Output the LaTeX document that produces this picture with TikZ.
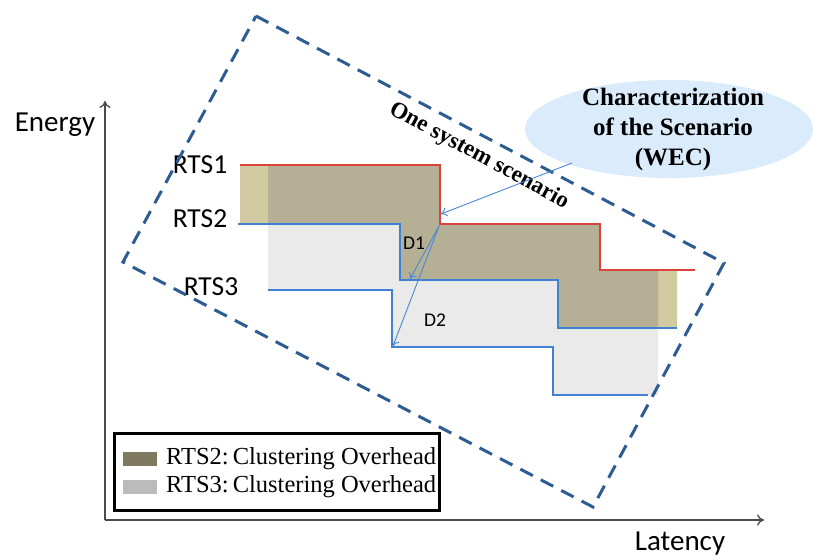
\documentclass[tikz,border=0pt]{standalone}
\usepackage{fontspec}
\setmainfont{Carlito}
\newfontfamily\serifface{Liberation Serif}
\usetikzlibrary{shapes.geometric,arrows.meta}

\definecolor{axisgray}{HTML}{4A4A4A}
\definecolor{rtsred}{HTML}{D9433B}
\definecolor{rtsblue}{HTML}{4181D3}
\definecolor{scenblue}{HTML}{2C5C92}
\definecolor{tanlight}{HTML}{D2CBA2}
\definecolor{tandark}{HTML}{B5AF96}
\definecolor{grayfill}{HTML}{EAEAEA}
\definecolor{swatchdark}{HTML}{7F7960}
\definecolor{swatchgray}{HTML}{BBBBBB}
\definecolor{wecfill}{HTML}{DAEBFB}
\definecolor{pointer}{HTML}{4A88D4}

\tikzset{
  axis/.style={draw=axisgray, line width=1.3pt, -{To[length=7pt,width=11pt]}},
  curve/.style={line width=2.6pt, line join=miter},
  sanslabel/.style={font=\fontsize{27.5}{31}\selectfont, inner sep=0pt},
  axislabel/.style={font=\fontsize{29}{33}\selectfont, inner sep=0pt},
  dlabel/.style={font=\fontsize{19.5}{22}\selectfont, inner sep=0pt},
  legendtext/.style={font=\serifface\fontsize{24.5}{27}\selectfont, anchor=west, inner sep=0pt},
  pointerarrow/.style={draw=pointer, line width=0.9pt, -{To[length=6pt,width=9pt]}},
  scenario/.style={draw=scenblue, line width=3pt, dash pattern=on 14pt off 9pt}
}

\begin{document}
\begin{tikzpicture}[x=1pt,y=-1pt]
\useasboundingbox (0,0) rectangle (813,558);

% axes
\coordinate (origin) at (105,520);
\coordinate (ytip) at (105,101);
\coordinate (xtip) at (764,520);
\draw[axis] (origin) -- (ytip);
\draw[axis] (origin) -- (xtip);
\node[axislabel] (energy) at (55,125) {Energy};
\node[axislabel] (latency) at (680,544) {Latency};

% overhead areas
\fill[grayfill] (268,224) -- (400,224) -- (400,280) -- (558,280) -- (558,328)
  -- (658,328) -- (658,395) -- (553,395) -- (553,347) -- (392,347) -- (392,290)
  -- (268,290) -- cycle;
\fill[tanlight] (240,165) -- (440,165) -- (440,224) -- (600,224) -- (600,270)
  -- (677,270) -- (677,328) -- (558,328) -- (558,280) -- (400,280) -- (400,224)
  -- (240,224) -- cycle;
\fill[tandark] (268,165) -- (440,165) -- (440,224) -- (600,224) -- (600,270)
  -- (658,270) -- (658,328) -- (558,328) -- (558,280) -- (400,280) -- (400,224)
  -- (268,224) -- cycle;

% step curves
\draw[curve, rtsred] (240,165) -- (440,165) -- (440,224) -- (600,224) -- (600,270) -- (695,270);
\draw[curve, rtsblue] (238,224) -- (400,224) -- (400,280) -- (558,280) -- (558,328) -- (677,328);
\draw[curve, rtsblue] (268,290) -- (392,290) -- (392,347) -- (553,347) -- (553,395) -- (648,395);

\node[sanslabel] (rts1) at (200,165) {RTS1};
\node[sanslabel] (rts2) at (200,219) {RTS2};
\node[sanslabel] (rts3) at (211,287) {RTS3};
\node[dlabel] (d1) at (414,243) {D1};
\node[dlabel] (d2) at (435,320) {D2};

% system scenario boundary
\coordinate (sc-top) at (256,16);
\coordinate (sc-right) at (724,263);
\coordinate (sc-bottom) at (593,507);
\coordinate (sc-left) at (123,262);
\draw[scenario] (sc-top) -- (sc-right) -- (sc-bottom) -- (sc-left) -- cycle;
\node[font=\serifface\bfseries\fontsize{23}{26}\selectfont, rotate=-28.4, inner sep=0pt]
  (scen) at (479,156) {One system scenario};

% scenario characterization
\node[ellipse, fill=wecfill, minimum width=288pt, minimum height=98pt, inner sep=0pt]
  (wec) at (669,129) {};
\node[font=\serifface\bfseries\fontsize{25}{30}\selectfont, align=center, inner sep=0pt]
  (wectext) at (673,129) {Characterization\\of the Scenario\\(WEC)};

% pointers
\coordinate (wecfoot) at (572,163);
\coordinate (corner1) at (441,214);
\coordinate (dstart) at (439,226);
\coordinate (d1end) at (410,279);
\coordinate (d2end) at (393,346);
\draw[pointerarrow] (wecfoot) -- (corner1);
\draw[pointerarrow] (dstart) -- (d1end);
\draw[pointerarrow] (dstart) -- (d2end);

% legend
\draw[line width=3pt, fill=white] (114,433) rectangle (439,510);
\fill[swatchdark] (123,452) rectangle (157,466);
\fill[swatchgray] (123,480) rectangle (157,494);
\node[legendtext] (leg1) at (166,459) {RTS2:\,Clustering Overhead};
\node[legendtext] (leg2) at (166,487) {RTS3:\,Clustering Overhead};
\end{tikzpicture}
\end{document}
